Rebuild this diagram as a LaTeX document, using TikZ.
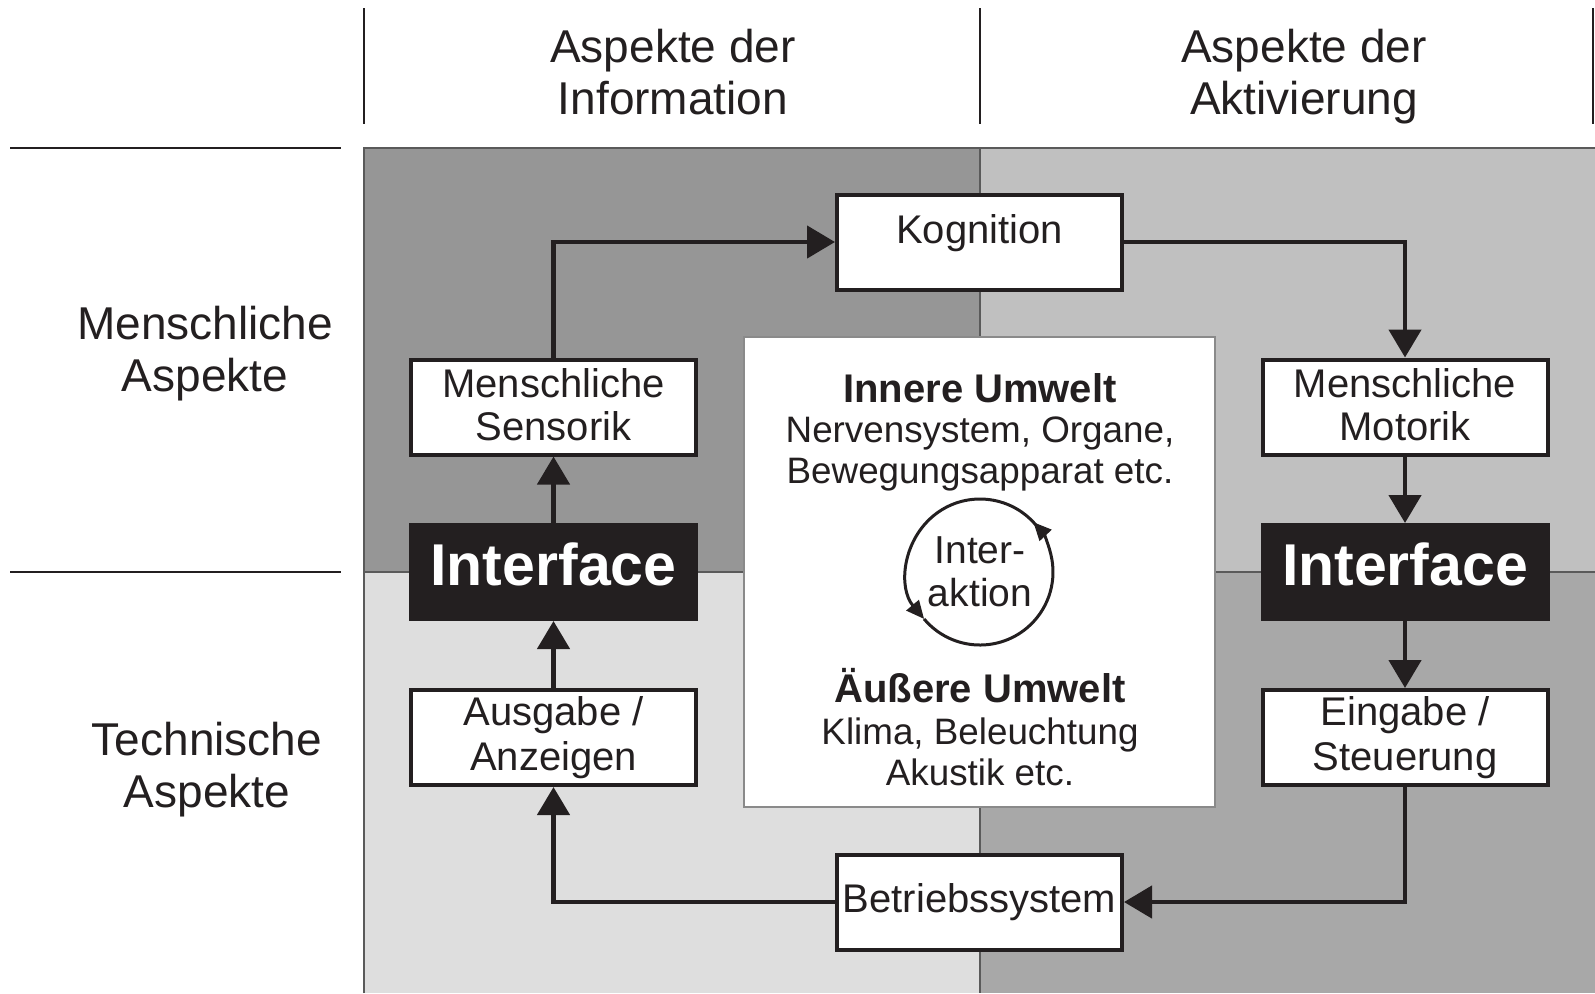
\documentclass[tikz,border=0pt]{standalone}
\usepackage{fontspec}
\setmainfont{Liberation Sans}
\usetikzlibrary{arrows.meta}
\definecolor{ink}{HTML}{231F20}
\definecolor{qtl}{HTML}{969696}
\definecolor{qtr}{HTML}{C0C0C0}
\definecolor{qbl}{HTML}{DEDEDE}
\definecolor{qbr}{HTML}{A8A8A8}
\definecolor{edge}{HTML}{5A5A5A}
\definecolor{cbord}{HTML}{8A8A8A}
\begin{document}
\begin{tikzpicture}[x=0.5pt,y=-0.5pt,
  hdr/.style={font=\fontsize{23}{26}\selectfont, text=ink, align=center, inner sep=0pt},
  wbox/.style={draw=ink, fill=white, line width=2pt, minimum width=142.5pt, minimum height=47.5pt, inner sep=0pt, align=center, text=ink, font=\fontsize{20}{21.75}\selectfont},
  ibox/.style={draw=ink, fill=ink, line width=1pt, minimum width=143.5pt, minimum height=48pt, inner sep=0pt, text=white, text depth=8pt, font=\fontsize{29.5}{30}\selectfont\bfseries},
  arr/.style={draw=ink, line width=2.3pt, -{Triangle[length=14pt,width=16pt]}},
  circarr/.style={draw=ink, line width=1.5pt, -{Triangle[length=9pt,width=8pt]}},
  ctext/.style={text=ink, inner sep=0pt, align=center, font=\fontsize{18.4}{20.5}\selectfont},
  cbold/.style={text=ink, inner sep=0pt, align=center, font=\fontsize{20}{21}\selectfont\bfseries},
  rule/.style={draw=ink, line width=1pt}]
\useasboundingbox (0,0) rectangle (1595,993);
\fill[white] (0,0) rectangle (1595,993);
% quadrants
\fill[qtl] (364,147.5) rectangle (980,572);
\fill[qtr] (980,147.5) rectangle (1595,572);
\fill[qbl] (364,572) rectangle (980,993);
\fill[qbr] (980,572) rectangle (1595,993);
\draw[edge, line width=1pt] (364,993) -- (364,147.5) -- (1595,147.5);
\draw[edge, line width=0.8pt] (980,147.5) -- (980,993);
\draw[edge, line width=0.8pt] (364,572) -- (1595,572);
% header rules
\draw[rule] (364,8) -- (364,124);
\draw[rule] (980,8) -- (980,124);
\draw[rule] (1593,8) -- (1593,124);
\draw[rule] (10,147.5) -- (341,147.5);
\draw[rule] (10,572) -- (341,572);
% header texts
\node[hdr] (hinfo) at (673,72.5) {Aspekte der\\Information};
\node[hdr] (hakt) at (1304,77) {Aspekte der\\Aktivierung};
\node[hdr] (hmensch) at (205,354) {Menschliche\\Aspekte};
\node[hdr] (htech) at (207,770) {Technische\\Aspekte};
% centre box
\node[draw=cbord, fill=white, line width=1pt, minimum width=235.5pt, minimum height=235pt, inner sep=0pt] (umwelt) at (979.5,572) {};
\node[cbold] (innen) at (980,388) {Innere Umwelt};
\node[ctext] (innentxt) at (980,454) {Nervensystem, Organe,\\Bewegungsapparat etc.};
\node[cbold] (aussen) at (980,686) {Äußere Umwelt};
\node[ctext] (aussentxt) at (980,752) {Klima, Beleuchtung\\Akustik etc.};
\node[text=ink, inner sep=0pt, align=center, font=\fontsize{19.5}{21.5}\selectfont] (ia) at (980,572) {Inter-\\aktion};
\draw[circarr] (ia.center) ++(140:73) arc[start angle=140, end angle=-43, radius=73];
\draw[circarr] (ia.center) ++(-40:73) arc[start angle=-40, end angle=-220, radius=73];
% boxes
\node[wbox, text depth=13.5pt] (kog) at (979.5,242) {Kognition};
\node[wbox, text depth=2.5pt] (sens) at (553.5,407) {Menschliche\\Sensorik};
\node[wbox, text depth=2.5pt] (mot) at (1405,407) {Menschliche\\Motorik};
\node[ibox] (intl) at (553.5,572) {Interface};
\node[ibox] (intr) at (1405,572) {Interface};
\node[wbox, font=\fontsize{20}{22.5}\selectfont] (aus) at (553.5,737.5) {Ausgabe /\\Anzeigen};
\node[wbox, font=\fontsize{20}{22.5}\selectfont] (ein) at (1405,737.5) {Eingabe /\\Steuerung};
\node[wbox] (bet) at (979.5,902) {Betriebssystem};
% connectors
\draw[arr] (sens.north) |- (kog.west);
\draw[arr] (kog.east) -| (mot.north);
\draw[arr] (mot.south) -- (intr.north);
\draw[arr] (intr.south) -- (ein.north);
\draw[arr] (ein.south) |- (bet.east);
\draw[arr] (bet.west) -| (aus.south);
\draw[arr] (aus.north) -- (intl.south);
\draw[arr] (intl.north) -- (sens.south);
\end{tikzpicture}
\end{document}
